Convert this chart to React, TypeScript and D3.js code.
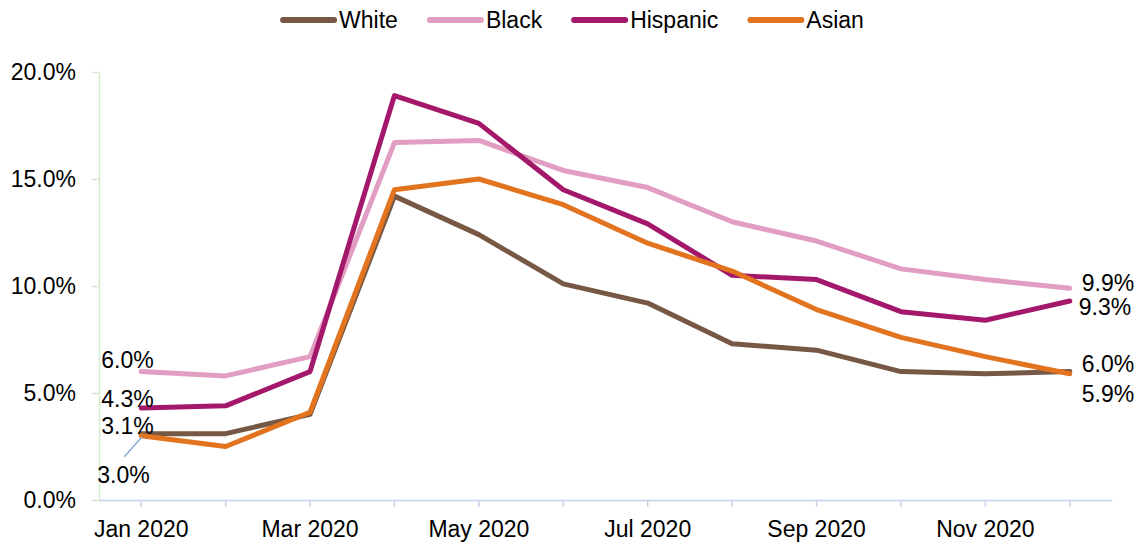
import React, { useEffect, useRef } from 'react';
import * as d3 from 'd3';

// Monthly unemployment rate by race/ethnicity, 2020
const months = ['Jan 2020', 'Feb 2020', 'Mar 2020', 'Apr 2020', 'May 2020', 'Jun 2020',
  'Jul 2020', 'Aug 2020', 'Sep 2020', 'Oct 2020', 'Nov 2020', 'Dec 2020'];
const seriesNames = ['White', 'Black', 'Hispanic', 'Asian'];
const white = [3.1, 3.1, 4.0, 14.2, 12.4, 10.1, 9.2, 7.3, 7.0, 6.0, 5.9, 6.0];
const black = [6.0, 5.8, 6.7, 16.7, 16.8, 15.4, 14.6, 13.0, 12.1, 10.8, 10.3, 9.9];
const hispanic = [4.3, 4.4, 6.0, 18.9, 17.6, 14.5, 12.9, 10.5, 10.3, 8.8, 8.4, 9.3];
const asian = [3.0, 2.5, 4.1, 14.5, 15.0, 13.8, 12.0, 10.7, 8.9, 7.6, 6.7, 5.9];
const yTicks = [0, 5, 10, 15, 20];

const colors = ['#775845', '#e29dc3', '#a3186a', '#e2731f'];
// label offsets (px) for first / last point labels
const startOffsets = [{ dx: -40, dy: -8 }, { dx: -40, dy: -12 }, { dx: -40, dy: -9 }, { dx: -44, dy: 39 }];
const endOffsets = [{ dx: 12, dy: -8 }, { dx: 12, dy: -5 }, { dx: 9, dy: 6 }, { dx: 12, dy: 20 }];

const W = 1146;
const H = 548;
const FONT = '"Liberation Sans", Arial, sans-serif';

const App = () => {
  const svgRef = useRef<SVGSVGElement>(null);

  useEffect(() => {
    document.body.style.margin = '0';
    if (!svgRef.current) return;
    const svg = d3.select(svgRef.current);
    svg.selectAll('*').remove();

    const values = [white, black, hispanic, asian];
    const left = 99, right = 1112, top = 72, bottom = 500;

    const x = d3.scaleBand<string>().domain(months).range([left, right]).padding(0);
    const cx = (m: string) => (x(m) || 0) + x.bandwidth() / 2;
    const y = d3.scaleLinear().domain([0, 20]).range([bottom, top]);

    // y axis
    const yAxis = svg.append('g')
      .attr('transform', `translate(${left},0)`)
      .call(d3.axisLeft(y).tickValues(yTicks).tickFormat(d => (+d).toFixed(1) + '%')
        .tickSize(7).tickSizeOuter(0).tickPadding(16));
    yAxis.select('.domain').attr('stroke', '#d6ebcc').attr('stroke-width', 1.5);
    yAxis.selectAll('.tick line').attr('stroke', '#d6ebcc').attr('stroke-width', 1.5);
    yAxis.selectAll('.tick text').attr('font-family', FONT).attr('font-size', 23).attr('fill', '#000');

    // x axis
    const xAxis = svg.append('g')
      .attr('transform', `translate(0,${bottom})`)
      .call(d3.axisBottom(x).tickFormat((d, i) => (i % 2 === 0 ? d : ''))
        .tickSize(7).tickSizeOuter(0).tickPadding(14));
    xAxis.select('.domain').attr('stroke', '#c3d1ec').attr('stroke-width', 1.5);
    xAxis.selectAll('.tick line').attr('stroke', '#c3d1ec').attr('stroke-width', 1.5);
    xAxis.selectAll('.tick text').attr('font-family', FONT).attr('font-size', 23).attr('fill', '#000');

    // lines
    const line = d3.line<number>().x((_, i) => cx(months[i])).y(d => y(d));
    values.forEach((vals, s) => {
      svg.append('path')
        .datum(vals)
        .attr('d', line)
        .attr('fill', 'none')
        .attr('stroke', colors[s])
        .attr('stroke-width', 5)
        .attr('stroke-linejoin', 'round')
        .attr('stroke-linecap', 'round');
    });

    // data labels at first and last points
    const labels = svg.append('g').attr('font-family', FONT).attr('font-size', 23).attr('fill', '#000');
    values.forEach((vals, s) => {
      const first = vals[0];
      const last = vals[vals.length - 1];
      labels.append('text')
        .attr('x', cx(months[0]) + startOffsets[s].dx)
        .attr('y', y(first) + startOffsets[s].dy)
        .attr('dy', '0.35em')
        .text(first.toFixed(1) + '%');
      labels.append('text')
        .attr('x', cx(months[months.length - 1]) + endOffsets[s].dx)
        .attr('y', y(last) + endOffsets[s].dy)
        .attr('dy', '0.35em')
        .text(last.toFixed(1) + '%');
    });
    // leader line for the Asian start label
    svg.append('line')
      .attr('x1', cx(months[0]) - 17).attr('y1', y(asian[0]) + 21)
      .attr('x2', cx(months[0]) + 1).attr('y2', y(asian[0]) + 1)
      .attr('stroke', '#8faadc').attr('stroke-width', 1.5);

    // legend
    const legend = svg.append('g').attr('transform', 'translate(0,20)');
    const swatch = 57;
    const items = seriesNames.map((name, s) => {
      const g = legend.append('g');
      g.append('line').attr('x1', 3).attr('x2', swatch - 3).attr('y1', 0).attr('y2', 0)
        .attr('stroke', colors[s]).attr('stroke-width', 6).attr('stroke-linecap', 'round');
      const t = g.append('text').attr('x', swatch + 2).attr('dy', '0.35em')
        .attr('font-family', FONT).attr('font-size', 23).attr('fill', '#000').text(name);
      const w = (t.node() as SVGTextElement).getComputedTextLength();
      return { g, width: swatch + 2 + w };
    });
    const gap = 29;
    const total = d3.sum(items, d => d.width) + gap * (items.length - 1);
    let pos = 572 - total / 2;
    items.forEach(it => {
      it.g.attr('transform', `translate(${pos},0)`);
      pos += it.width + gap;
    });
  }, []);

  return <svg ref={svgRef} width={W} height={H} style={{ display: 'block', background: '#fff' }} />;
};

export default App;
